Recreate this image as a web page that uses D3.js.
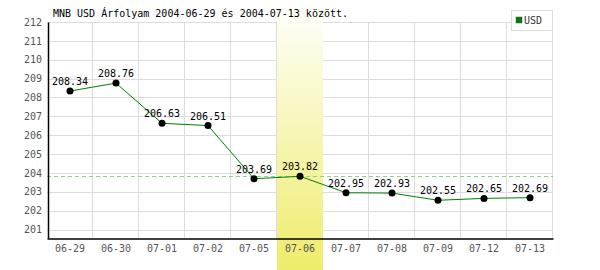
<!DOCTYPE html>
<html>
<head>
<meta charset="utf-8">
<script src="https://cdn.jsdelivr.net/npm/d3@7"></script>
<style>
  body { margin: 0; background: #fff; }
  svg { display: block; }
</style>
</head>
<body>
<svg id="chart" width="600" height="270"></svg>
<script>
// MNB USD rates
let dates = ["06-29", "06-30", "07-01", "07-02", "07-05", "07-06", "07-07", "07-08", "07-09", "07-12", "07-13"];
let rates = [208.34, 208.76, 206.63, 206.51, 203.69, 203.82, 202.95, 202.93, 202.55, 202.65, 202.69];
let yTicks = [201, 202, 203, 204, 205, 206, 207, 208, 209, 210, 211, 212];
let highlightDate = "07-06";
let title = "MNB USD Árfolyam 2004-06-29 és 2004-07-13 között.";
let seriesName = "USD";

let svg = d3.select('#chart');
let width = +svg.attr('width');
let height = +svg.attr('height');
let margin = { top: 22, bottom: 32, left: 47, right: 47 };
let font = "'DejaVu Sans Mono', monospace";

let x = d3.scaleBand()
  .domain(dates)
  .range([margin.left, width - margin.right]);
let y = d3.scaleLinear()
  .domain([200.55, 212])
  .range([height - margin.bottom, margin.top]);

// highlight band gradient
let defs = svg.append("defs");
let grad = defs.append("linearGradient")
  .attr("id", "hl").attr("x1", 0).attr("y1", 0).attr("x2", 0).attr("y2", 1);
grad.append("stop").attr("offset", "0%").attr("stop-color", "#ffffff");
grad.append("stop").attr("offset", "100%").attr("stop-color", "#eeec6a");

// grid
svg.append("g")
  .selectAll("line")
  .data(yTicks)
  .join("line")
  .attr("x1", margin.left).attr("x2", width - margin.right)
  .attr("y1", d => Math.round(y(d)) + 0.5).attr("y2", d => Math.round(y(d)) + 0.5)
  .attr("stroke", "#dcdcdc");
svg.append("g")
  .selectAll("line")
  .data(dates.slice(1).concat(["end"]))
  .join("line")
  .attr("x1", (d, i) => Math.round(x(dates[0]) + (i + 1) * x.bandwidth()) - 0.5)
  .attr("x2", (d, i) => Math.round(x(dates[0]) + (i + 1) * x.bandwidth()) - 0.5)
  .attr("y1", margin.top).attr("y2", height - margin.bottom)
  .attr("stroke", "#dcdcdc");

// highlight band
svg.append("rect")
  .attr("x", x(highlightDate))
  .attr("y", 0)
  .attr("width", x.bandwidth())
  .attr("height", height)
  .attr("fill", "url(#hl)");

// reference dashed line at highlighted day's rate
let refValue = rates[dates.indexOf(highlightDate)];
svg.append("line")
  .attr("x1", margin.left).attr("x2", width - margin.right)
  .attr("y1", Math.round(y(refValue)) + 0.5).attr("y2", Math.round(y(refValue)) + 0.5)
  .attr("stroke", "#8fd08f")
  .attr("stroke-dasharray", "4,3");

// axes
let yAxis = g => g
  .attr("transform", `translate(${margin.left + 1},0)`)
  .call(d3.axisLeft(y).tickValues(yTicks).tickSize(0).tickPadding(6).tickFormat(d3.format("d")))
  .call(g => g.select(".domain").attr("stroke", "#000").attr("stroke-width", 1.5))
  .call(g => g.selectAll("text").attr("fill", "#555").attr("font-family", font).attr("font-size", 10));
let xAxis = g => g
  .attr("transform", `translate(0,${height - margin.bottom + 0.5})`)
  .call(d3.axisBottom(x).tickSize(0).tickPadding(6).tickSizeOuter(0))
  .call(g => g.select(".domain").attr("stroke", "#000").attr("stroke-width", 1.5))
  .call(g => g.selectAll("text").attr("fill", "#555").attr("font-family", font).attr("font-size", 10));

svg.append("g").call(yAxis);
svg.append("g").call(xAxis);

// line
let cx = d => x(d) + x.bandwidth() / 2;
let line = d3.line()
  .x((d, i) => cx(dates[i]))
  .y(d => y(d));
svg.append("path")
  .datum(rates)
  .attr("fill", "none")
  .attr("stroke", "#008000")
  .attr("stroke-width", 1)
  .attr("d", line);

// dots
svg.append("g")
  .selectAll("circle")
  .data(rates)
  .join("circle")
  .attr("cx", (d, i) => cx(dates[i]))
  .attr("cy", d => y(d))
  .attr("r", 3.5)
  .attr("fill", "#000");

// value labels
svg.append("g")
  .selectAll("text")
  .data(rates)
  .join("text")
  .attr("x", (d, i) => cx(dates[i]))
  .attr("y", d => y(d) - 6)
  .attr("text-anchor", "middle")
  .attr("font-family", font)
  .attr("font-size", 10)
  .attr("fill", "#000")
  .text(d => d.toFixed(2));

// title
svg.append("text")
  .attr("x", 53).attr("y", 17)
  .attr("font-family", font)
  .attr("font-size", 10)
  .attr("fill", "#000")
  .text(title);

// legend
let lg = svg.append("g").attr("transform", "translate(511,10)");
lg.append("rect")
  .attr("x", 0.5).attr("y", 0.5).attr("width", 41).attr("height", 20)
  .attr("fill", "#fff").attr("stroke", "#dcdcdc");
lg.append("rect")
  .attr("x", 5).attr("y", 7).attr("width", 6).attr("height", 6)
  .attr("fill", "#008000").attr("stroke", "#555").attr("stroke-width", 0.5);
lg.append("text")
  .attr("x", 13).attr("y", 14)
  .attr("font-family", font)
  .attr("font-size", 10)
  .attr("fill", "#333")
  .text(seriesName);
</script>
</body>
</html>
